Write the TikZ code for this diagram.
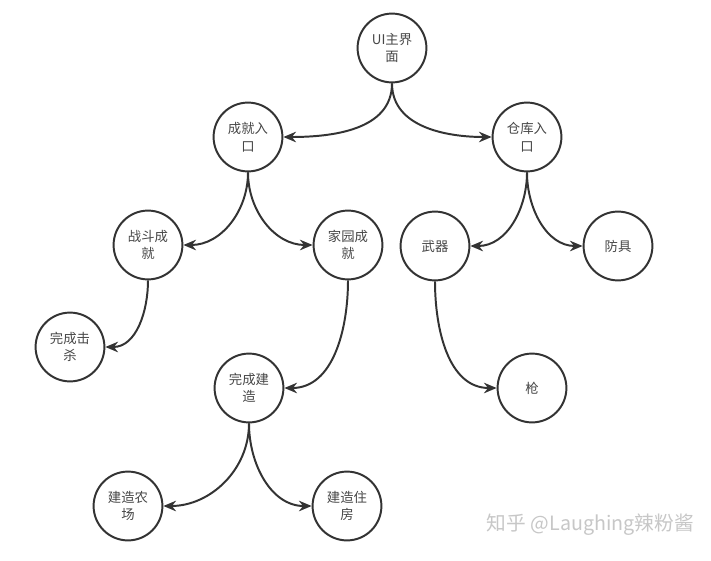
\documentclass[tikz,border=0pt]{standalone}
\usepackage{fontspec}
\newfontfamily\cjk{Noto Sans CJK SC}
\usetikzlibrary{arrows.meta}
\definecolor{ink}{HTML}{333333}

\begin{document}
\begin{tikzpicture}[x=0.025cm, y=-0.025cm, >={Stealth[length=9pt,width=7.5pt]},
  every node/.style={font=\cjk\fontsize{9.5}{12.5}\selectfont, text=ink!90},
  state/.style={circle, draw=ink, line width=1.4pt, minimum size=1.72cm, inner sep=0pt, align=center},
  link/.style={->, draw=ink, line width=1.4pt}]
\path[fill=white] (0,0) rectangle (711,560);
% tree nodes
\foreach \n/\x/\y/\t in {ui/392/48/{UI主界\\面}, cj/248/137/{成就入\\口}, ck/527/137/{仓库入\\口},
  zd/148/245/{战斗成\\就}, jy/348/245/{家园成\\就}, wq/435/246/{武器}, fj/618/246/{防具},
  js/70/347/{完成击\\杀}, jz/249/388/{完成建\\造}, qiang/532/388/{枪},
  nc/128/506/{建造农\\场}, zf/347/506/{建造住\\房}}
  \node[state] (\n) at (\x,\y) {\t};
% curved links, always leaving downwards
\foreach \a/\b/\i in {ui/cj/0, ui/ck/180, cj/zd/0, cj/jy/180, ck/wq/0, ck/fj/180,
  zd/js/0, jy/jz/0, wq/qiang/180, jz/nc/0, jz/zf/180}
  \draw[link] (\a) to[out=-90, in=\i] (\b);
\node[anchor=west, text=black!22, font=\cjk\fontsize{14}{14}\selectfont] (mark) at (482,525) {知乎 @Laughing辣粉酱};
\end{tikzpicture}
\end{document}
